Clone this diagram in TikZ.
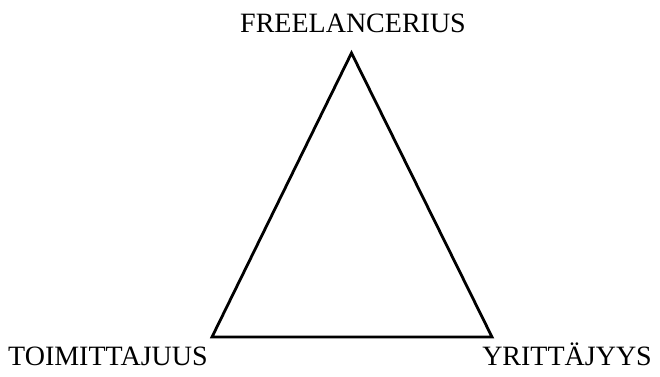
\documentclass[tikz,border=0pt]{standalone}
\usepackage{fontspec}
\setmainfont{Liberation Serif}
\tikzset{lbl/.style={font=\fontsize{28}{32}\selectfont, inner sep=0pt}}
\begin{document}
\begin{tikzpicture}[x=1pt,y=-1pt]
\useasboundingbox (0,0) rectangle (660,376);
\coordinate (top) at (351.5,53);
\coordinate (bl) at (212,337);
\coordinate (br) at (492,337);
\draw[line width=2.8pt, line join=miter] (top) -- (br) -- (bl) -- cycle;
\node[lbl, anchor=base] (f) at (353,32) {FREELANCERIUS};
\node[lbl, anchor=base west] (t) at (8,365) {TOIMITTAJUUS};
\node[lbl, anchor=base east] (y) at (652,365) {YRITTÄJYYS};
\end{tikzpicture}
\end{document}
